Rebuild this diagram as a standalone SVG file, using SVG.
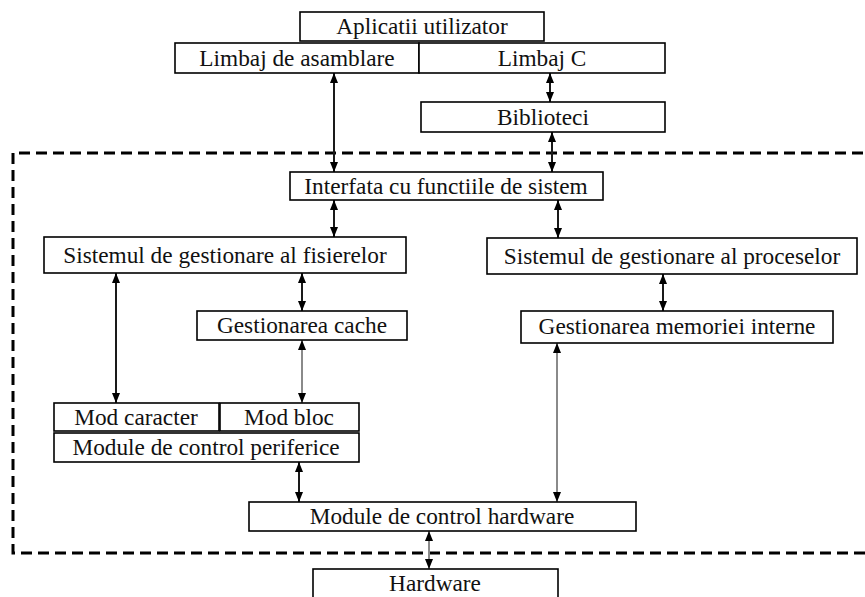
<svg xmlns="http://www.w3.org/2000/svg" width="865" height="597" viewBox="0 0 865 597">
  <defs>
    <style>
      .box rect { fill: #fff; stroke: #000; stroke-width: 1.6; }
      .box text { font-family: "Liberation Serif", "DejaVu Serif", serif; font-size: 23.3px; fill: #111; text-anchor: middle; }
      .link { stroke: #1a1a1a; stroke-width: 2; fill: none; marker-start: url(#head); marker-end: url(#head); }
      .link.grey { stroke: #8a8a8a; }
      .frame { fill: none; stroke: #000; stroke-width: 3; stroke-dasharray: 11 6; }
    </style>
    <marker id="head" viewBox="0 0 10 8" refX="10" refY="4" markerWidth="10" markerHeight="8" markerUnits="userSpaceOnUse" orient="auto-start-reverse">
      <path d="M0,0 L10,4 L0,8 z" fill="#000"/>
    </marker>
  </defs>

  <rect width="865" height="597" fill="#fff"/>

  <!-- kernel boundary -->
  <path class="frame" d="M880,153 H13 V553 H880"/>

  <g id="connectors">
    <line class="link" x1="334" y1="73" x2="334" y2="172"/>
    <line class="link" x1="550" y1="73" x2="550" y2="102"/>
    <line class="link" x1="552" y1="132" x2="552" y2="172"/>
    <line class="link" x1="334" y1="200" x2="334" y2="237"/>
    <line class="link" x1="558" y1="200" x2="558" y2="238"/>
    <line class="link" x1="116" y1="273" x2="116" y2="403"/>
    <line class="link" x1="302" y1="273" x2="302" y2="311"/>
    <line class="link grey" x1="302" y1="340" x2="302" y2="403"/>
    <line class="link" x1="663" y1="274" x2="663" y2="311"/>
    <line class="link grey" x1="557" y1="343" x2="557" y2="502"/>
    <line class="link" x1="299" y1="462" x2="299" y2="502"/>
    <line class="link grey" x1="429" y1="531" x2="429" y2="569"/>
  </g>

  <g id="aplicatii" class="box">
    <rect x="300" y="12" width="244" height="29"/>
    <text x="422" y="34" font-family="Liberation Serif, serif">Aplicatii utilizator</text>
  </g>
  <g id="asamblare" class="box">
    <rect x="175" y="43" width="244" height="30"/>
    <text x="297" y="66">Limbaj de asamblare</text>
  </g>
  <g id="limbaj-c" class="box">
    <rect x="419" y="43" width="246" height="30"/>
    <text x="542" y="66">Limbaj C</text>
  </g>
  <g id="biblioteci" class="box">
    <rect x="421" y="102" width="244" height="30"/>
    <text x="543" y="125">Biblioteci</text>
  </g>
  <g id="interfata" class="box">
    <rect x="290" y="172" width="313" height="28"/>
    <text x="446" y="194">Interfata cu functiile de sistem</text>
  </g>
  <g id="fisiere" class="box">
    <rect x="44" y="237" width="362" height="36"/>
    <text x="225" y="263">Sistemul de gestionare al fisierelor</text>
  </g>
  <g id="procese" class="box">
    <rect x="487" y="238" width="370" height="36"/>
    <text x="672" y="264">Sistemul de gestionare al proceselor</text>
  </g>
  <g id="cache" class="box">
    <rect x="197" y="311" width="210" height="29"/>
    <text x="302" y="333">Gestionarea cache</text>
  </g>
  <g id="memorie" class="box">
    <rect x="521" y="311" width="312" height="32"/>
    <text x="677" y="334">Gestionarea memoriei interne</text>
  </g>
  <g id="mod-caracter" class="box">
    <rect x="54" y="403" width="165" height="28"/>
    <text x="136" y="425">Mod caracter</text>
  </g>
  <g id="mod-bloc" class="box">
    <rect x="220" y="403" width="139" height="28"/>
    <text x="289" y="425">Mod bloc</text>
  </g>
  <g id="periferice" class="box">
    <rect x="54" y="433" width="305" height="29"/>
    <text x="206" y="455">Module de control periferice</text>
  </g>
  <g id="control-hardware" class="box">
    <rect x="249" y="502" width="387" height="29"/>
    <text x="442" y="524">Module de control hardware</text>
  </g>
  <g id="hardware" class="box">
    <rect x="313" y="569" width="245" height="32"/>
    <text x="435" y="591">Hardware</text>
  </g>
</svg>
